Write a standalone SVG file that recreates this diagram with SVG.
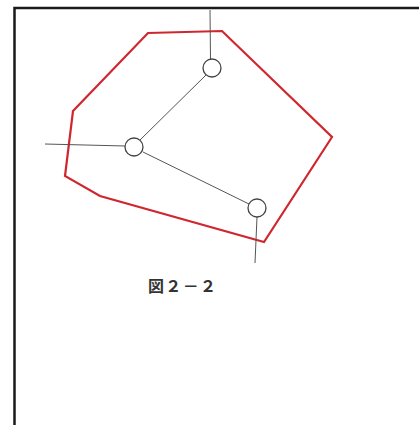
<svg xmlns="http://www.w3.org/2000/svg" width="419" height="425" viewBox="0 0 419 425">
<style>
.frame{fill:none;stroke:#1a1a1a;stroke-width:2.5}
.area{fill:none;stroke:#d0262e;stroke-width:2.2;stroke-linejoin:miter}
.node{fill:#fff;stroke:#444;stroke-width:1.3}
.conn{stroke:#555;stroke-width:1;fill:none}
.lbl{font-family:"Noto Sans CJK JP","Noto Sans",sans-serif;font-size:16px;fill:#333;font-weight:bold}
</style>
<rect width="419" height="425" fill="#fff"/>
<path class="frame" d="M14.5,425 V8 H419"/>
<polygon id="region" class="area" points="148,33 222,31 332,137 264,242 100,196 65,176 73,111"/>
<g id="connectors">
<line class="conn" x1="210" y1="10" x2="210.5" y2="59"/>
<line class="conn" x1="206" y1="75" x2="140" y2="140"/>
<line class="conn" x1="45" y1="144" x2="125" y2="146"/>
<line class="conn" x1="143" y1="152" x2="249" y2="204"/>
<line class="conn" x1="257" y1="217" x2="255" y2="263"/>
</g>
<g id="n1"><circle class="node" cx="212" cy="68" r="9"/></g>
<g id="n2"><circle class="node" cx="134" cy="147" r="9"/></g>
<g id="n3"><circle class="node" cx="257" cy="208" r="9"/></g>
<g id="caption"><text class="lbl" x="148" y="292" textLength="68">図２－２</text></g>
</svg>
